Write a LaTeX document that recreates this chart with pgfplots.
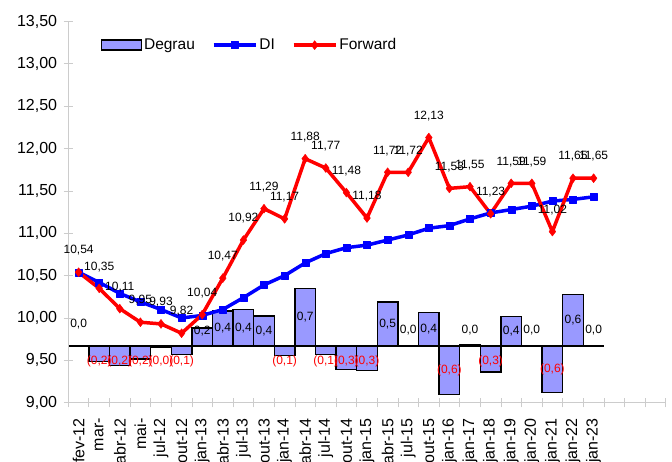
\documentclass[border=0pt]{standalone}
\usepackage{pgfplots}
\pgfplotsset{compat=1.18}
\usepackage{pgfplotstable}
\usepackage{fontspec}
\setmainfont{Liberation Sans}

\definecolor{barfill}{RGB}{153,153,255}

% Forward and DI curves
\pgfplotstableread{
x fwd di
0 10.54 10.54
1 10.35 10.42
2 10.11 10.29
3 9.95 10.19
4 9.93 10.10
5 9.82 10.00
6 10.04 10.03
7 10.47 10.10
8 10.92 10.24
9 11.29 10.39
10 11.17 10.50
11 11.88 10.65
12 11.77 10.76
13 11.48 10.83
14 11.18 10.86
15 11.72 10.92
16 11.72 10.98
17 12.13 11.06
18 11.53 11.09
19 11.55 11.17
20 11.23 11.24
21 11.59 11.28
22 11.59 11.32
23 11.02 11.38
24 11.65 11.40
25 11.65 11.43
}\lines

% Degrau (step) bars
\pgfplotstableread{
x v
0 0.00
1 -0.19
2 -0.24
3 -0.16
4 -0.02
5 -0.11
6 0.22
7 0.43
8 0.45
9 0.37
10 -0.12
11 0.71
12 -0.11
13 -0.29
14 -0.30
15 0.54
16 0.00
17 0.41
18 -0.60
19 0.02
20 -0.32
21 0.36
22 0.00
23 -0.57
24 0.63
25 0.00
}\degrau

% bar labels, positive / zero
\pgfplotstableread{
x ly lab
0 0.27 0,0
6 0.18 0,2
7 0.215 0,4
8 0.225 0,4
9 0.185 0,4
11 0.355 0,7
15 0.27 0,5
16 0.19 0,0
17 0.205 0,4
19 0.19 0,0
21 0.18 0,4
22 0.19 0,0
24 0.315 0,6
25 0.19 0,0
}\poslab

% bar labels, negative
\pgfplotstableread{
x ly lab
1 -0.19 (0,2)
2 -0.19 (0,2)
3 -0.19 (0,2)
4 -0.19 (0,0)
5 -0.19 (0,1)
10 -0.19 (0,1)
12 -0.19 (0,1)
13 -0.19 (0,3)
14 -0.19 (0,3)
18 -0.30 (0,6)
20 -0.19 (0,3)
23 -0.285 (0,6)
}\neglab

\tikzset{lblfont/.style={font=\fontsize{12}{12}\selectfont}}
\pgfplotsset{
  /pgf/number format/assume math mode=true,
  base/.style={
    scale only axis, width=597.4pt, height=381.2pt,
    xmin=-0.5, xmax=28.5, clip=false,
  },
  mybox legend/.style={legend image code/.code={\draw[##1] (0pt,-5pt) rectangle (40pt,5pt);}},
}

\begin{document}
\begin{tikzpicture}
\begin{axis}[base, ymin=-0.7, ymax=4.0, hide axis]
  \addplot[ybar, bar width=20.6pt, fill=barfill, draw=black, line width=1.3pt] table[x=x,y=v]{\degrau};
  \addplot[draw=none, nodes near coords, point meta=explicit symbolic,
    every node near coord/.style={anchor=center, lblfont, text=black}]
    table[x=x,y=ly,meta=lab]{\poslab};
  \addplot[draw=none, nodes near coords, point meta=explicit symbolic,
    every node near coord/.style={anchor=center, lblfont, text=red}]
    table[x=x,y=ly,meta=lab]{\neglab};
\end{axis}
\begin{axis}[base, ymin=9, ymax=13.5,
    axis x line*=bottom, axis y line*=left,
    axis line style={draw=gray!40, line width=0.8pt, -},
    ytick={9,9.5,10,10.5,11,11.5,12,12.5,13,13.5},
    y tick label style={xshift=-3pt, /pgf/number format/.cd, fixed, fixed zerofill, precision=2, use comma, /tikz/.cd},
    xtick={-0.5,0.5,...,28.5},
    xticklabels={},
    extra x ticks={0,...,25},
    extra x tick labels={fev-12,mar-,abr-12,mai-,jul-12,out-12,jan-13,abr-13,jul-13,out-13,jan-14,abr-14,jul-14,out-14,jan-15,abr-15,jul-15,out-15,jan-16,jan-17,jan-18,jan-19,jan-20,jan-21,jan-22,jan-23},
    extra x tick style={major tick length=0pt,
      x tick label style={yshift=-12pt, rotate=90, anchor=east}},
    tick style={draw=gray!40, line width=0.8pt},
    tick align=center, major tick length=9.4pt,
    ticklabel style={font=\fontsize{16}{16}\selectfont},
    legend style={at={(0.049,0.938)}, anchor=west, draw=none, fill=none,
      legend columns=3, font=\fontsize{15.5}{15.5}\selectfont,
      /tikz/every even column/.append style={column sep=15pt}},
    legend image code/.code={\draw[mark repeat=2,mark phase=2,#1] plot coordinates {(0pt,0pt) (21pt,0pt) (42pt,0pt)};},
  ]
  \addlegendimage{mybox legend, fill=barfill, draw=black, line width=1.3pt}
  \addlegendentry{Degrau}
  \addplot[blue, line width=3.5pt, line join=round, mark=square*, mark size=3.5pt,
    mark options={solid, line width=0.4pt}] table[x=x,y=di]{\lines};
  \addlegendentry{DI}
  \addplot[red, line width=3.5pt, line join=round, mark=diamond*, mark size=4.5pt,
    mark options={solid, line width=0.4pt},
    nodes near coords, point meta=y,
    every node near coord/.style={anchor=center, yshift=21.7pt, lblfont, text=black,
      /pgf/number format/.cd, fixed, fixed zerofill, precision=2, use comma}]
    table[x=x,y=fwd]{\lines};
  \addlegendentry{Forward}
\end{axis}
\pgfresetboundingbox
\useasboundingbox (-68.3pt,-59.3pt) rectangle (603.7pt,402.7pt);
\end{tikzpicture}
\end{document}
